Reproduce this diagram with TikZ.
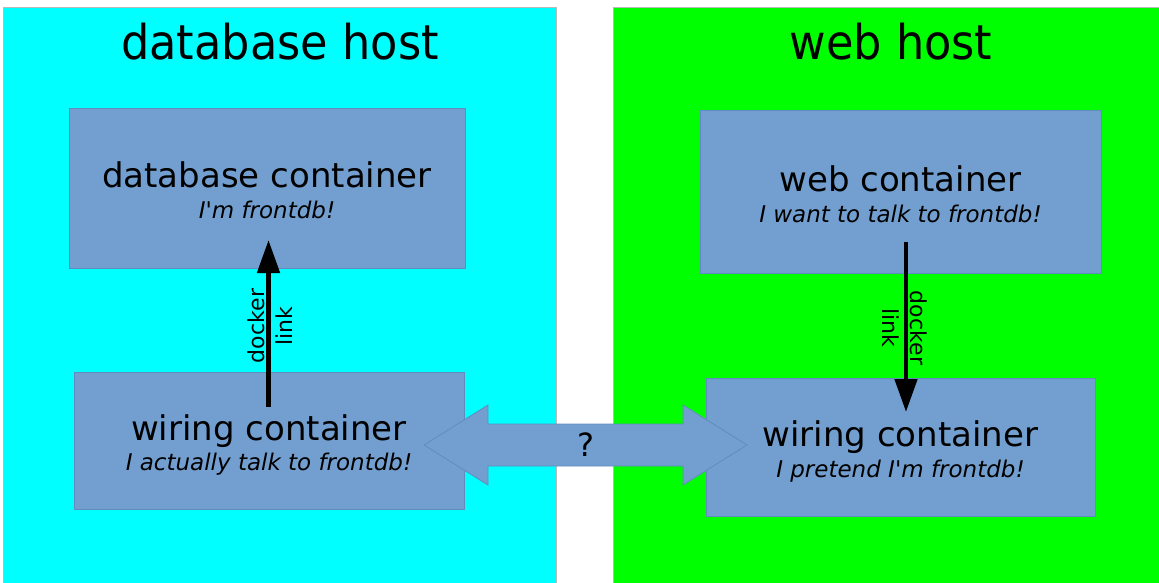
\documentclass[tikz,border=0pt]{standalone}
\usepackage{fontspec}
\usepackage{graphicx}
\setmainfont{DejaVu Sans}
\usetikzlibrary{arrows.meta,calc}

\definecolor{hostcyan}{RGB}{0,255,255}
\definecolor{hostgreen}{RGB}{0,255,0}
\definecolor{boxblue}{RGB}{114,159,207}
\definecolor{boxedge}{RGB}{98,140,190}
\definecolor{hostedge}{RGB}{185,185,185}

\newcommand{\apos}{\textquotesingle}

\tikzset{
  hostbox/.style={draw=hostedge, line width=0.8pt, anchor=north west,
    inner sep=0pt, outer sep=0pt},
  hosttitle/.style={anchor=base, inner sep=0pt, font=\fontsize{48}{52}\selectfont},
  ctbox/.style={draw=boxedge, line width=0.8pt, fill=boxblue, anchor=north west,
    inner sep=0pt, outer sep=0pt},
  ctname/.style={anchor=base, inner sep=0pt, font=\fontsize{34}{38}\selectfont},
  ctnote/.style={anchor=base, inner sep=0pt, font=\fontsize{23}{27}\selectfont\itshape},
  dlink/.style={line width=4.8pt, -{Triangle[length=33pt,width=22pt]}},
  linklabel/.style={align=center, inner sep=0pt, font=\fontsize{22}{28}\selectfont},
  bridge/.style={draw=boxedge, line width=0.8pt, fill=boxblue, line join=miter},
}

\begin{document}
\begin{tikzpicture}[x=1pt, y=-1pt]
  % page
  \fill[white] (0,0) rectangle (1159,583);
  \useasboundingbox (0,0) rectangle (1159,583);

  % the two hosts
  \node[hostbox, fill=hostcyan, minimum width=553pt, minimum height=590pt] (dbhost) at (3,7) {};
  \node[hostbox, fill=hostgreen, minimum width=560pt, minimum height=590pt] (webhost) at (613,7) {};
  \node[hosttitle] (dbhosttitle) at (280,60) {\scalebox{0.93}[1]{database host}};
  \node[hosttitle] (webhosttitle) at (891,60) {\scalebox{0.93}[1]{web host}};

  % containers
  \node[ctbox, minimum width=396pt, minimum height=160pt] (db)  at (69,108) {};
  \node[ctbox, minimum width=390pt, minimum height=137pt] (wl)  at (74,372) {};
  \node[ctbox, minimum width=401pt, minimum height=163pt] (web) at (700,110) {};
  \node[ctbox, minimum width=389pt, minimum height=138pt] (wr)  at (706,378) {};

  \node[ctname] (dbname)  at ($(db.center)+(0,-0.5)$)  {database container};
  \node[ctnote] (dbnote)  at ($(db.center)+(0,30)$)    {I\apos m frontdb!};
  \node[ctname] (wlname)  at ($(wl.center)+(0,0)$)     {wiring container};
  \node[ctnote] (wlnote)  at ($(wl.center)+(0,30)$)    {I actually talk to frontdb!};
  \node[ctname] (webname) at ($(web.center)+(0,0)$)    {web container};
  \node[ctnote] (webnote) at ($(web.center)+(0,30.5)$) {I want to talk to frontdb!};
  \node[ctname] (wrname)  at ($(wr.center)+(0,-1)$)    {wiring container};
  \node[ctnote] (wrnote)  at ($(wr.center)+(0,30)$)    {I pretend I\apos m frontdb!};

  % docker links
  \coordinate (ls) at ($(wl.north)+(-0.5,35)$);
  \coordinate (le) at ($(db.south)+(1.5,-28)$);
  \draw[dlink] (ls) -- (le);
  \node[linklabel, rotate=90] (llabel) at (270,326) {docker\\link};

  \coordinate (rs) at ($(web.south)+(5.5,-31)$);
  \coordinate (re) at ($(wr.north)+(5.5,34)$);
  \draw[dlink] (rs) -- (re);
  \node[linklabel, rotate=-90] (rlabel) at (905,328) {docker\\link};

  % unknown channel between the wiring containers
  \coordinate (q) at (585.5,445);
  \draw[bridge, shift={(q)}]
    (-161.5,0) -- (-97.5,-40) -- (-97.5,-21) -- (97.5,-21) -- (97.5,-40)
    -- (161.5,0) -- (97.5,40) -- (97.5,21) -- (-97.5,21) -- (-97.5,40) -- cycle;
  \node[font=\fontsize{32}{36}\selectfont, inner sep=0pt] (qmark) at (q) {?};
\end{tikzpicture}
\end{document}
